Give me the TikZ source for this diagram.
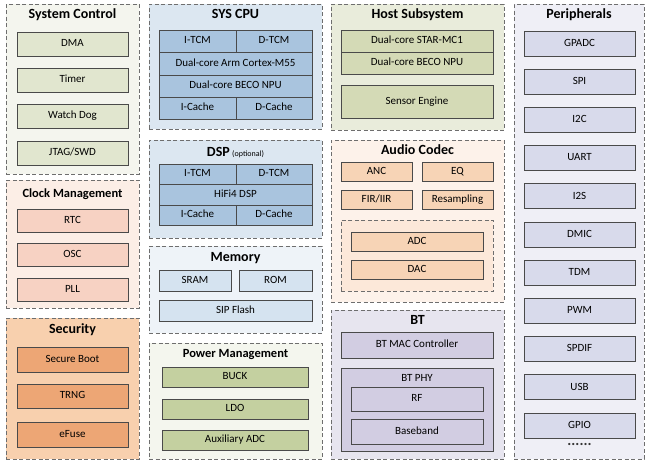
\documentclass[tikz,border=0pt]{standalone}
\usepackage{fontspec}
\setmainfont{Carlito}
\usetikzlibrary{positioning}
\definecolor{scO}{HTML}{F4F5EE}\definecolor{scI}{HTML}{E1E6CF}
\definecolor{ckO}{HTML}{FCEEE6}\definecolor{ckI}{HTML}{F7D2C3}
\definecolor{seO}{HTML}{F8D0AE}\definecolor{seI}{HTML}{EDA675}
\definecolor{cpO}{HTML}{DCE7F1}\definecolor{cpI}{HTML}{A9C4DE}
\definecolor{meO}{HTML}{EEF3F8}\definecolor{meI}{HTML}{D5E3F0}
\definecolor{pmO}{HTML}{F4F6EE}\definecolor{pmI}{HTML}{C4D0A0}
\definecolor{hoO}{HTML}{E9ECDB}\definecolor{hoI}{HTML}{D4DAB6}
\definecolor{auO}{HTML}{FDF2EA}\definecolor{auI}{HTML}{F7D4B6}\definecolor{auM}{HTML}{FCE8D9}
\definecolor{btO}{HTML}{E7E5EF}\definecolor{btI}{HTML}{D2CDE2}
\definecolor{peO}{HTML}{EFEFF6}\definecolor{peI}{HTML}{D8DAEB}
\definecolor{dashc}{HTML}{6E6E6E}\definecolor{linec}{HTML}{4A4A4A}
\newcommand\bx[7]{%
  \pgfmathsetmacro\bxw{#5-#3}\pgfmathsetmacro\bxh{#6-#4}%
  \node[#2, minimum width=\bxw pt, minimum height=\bxh pt] (#1) at ({(#3+#5)/2},{(#4+#6)/2}) {#7};}
\begin{document}
\begin{tikzpicture}[x=1pt,y=-1pt,
  outerbox/.style={draw=dashc, line width=0.9pt, dash pattern=on 4pt off 2.5pt, inner sep=0pt, outer sep=0pt},
  innerbox/.style={draw=linec, line width=0.8pt, inner sep=0pt, outer sep=0pt, font=\fontsize{11}{12}\selectfont, text height=7.5pt, text depth=2pt},
  midbox/.style={draw=dashc, line width=0.9pt, dash pattern=on 4pt off 2.5pt, inner sep=0pt, outer sep=0pt},
  title/.style={font=\fontsize{14}{16}\selectfont\bfseries, inner sep=0pt, text height=9.5pt, text depth=2.5pt},
  stitle/.style={font=\fontsize{12.5}{14}\selectfont\bfseries, inner sep=0pt, text height=8.5pt, text depth=2.5pt},
  label/.style={font=\fontsize{11}{12}\selectfont, inner sep=0pt, text height=7.5pt, text depth=2pt}]
\fill[white] (0,0) rectangle (650,464);
\useasboundingbox (0,0) rectangle (650,464);
% ---------- System Control
\bx{sc}{outerbox, fill=scO}{6}{4}{139}{174}{}
\node[title] (sct) at (72.5,15) {System Control};
\bx{dma}{innerbox, fill=scI}{17}{32}{128}{56}{DMA}
\bx{tim}{innerbox, fill=scI}{17}{68}{128}{92}{Timer}
\bx{wd}{innerbox, fill=scI}{17}{104}{128}{128}{Watch Dog}
\bx{jtag}{innerbox, fill=scI}{17}{141}{128}{165}{JTAG/SWD}
% ---------- Clock Management
\bx{ck}{outerbox, fill=ckO}{6}{180}{139}{308}{}
\node[stitle] (ckt) at (72.5,194) {Clock Management};
\bx{rtc}{innerbox, fill=ckI}{17}{209}{128}{232}{RTC}
\bx{osc}{innerbox, fill=ckI}{17}{243}{128}{266}{OSC}
\bx{pll}{innerbox, fill=ckI}{17}{278}{128}{301}{PLL}
% ---------- Security
\bx{se}{outerbox, fill=seO}{6}{318}{139}{459}{}
\node[title] (set) at (72.5,330) {Security};
\bx{sb}{innerbox, fill=seI}{17}{347}{128}{372}{Secure Boot}
\bx{trng}{innerbox, fill=seI}{17}{384}{128}{408}{TRNG}
\bx{efu}{innerbox, fill=seI}{17}{422}{128}{447}{eFuse}
% ---------- SYS CPU
\bx{cpu}{outerbox, fill=cpO}{149}{4}{322}{129}{}
\node[title] (cput) at (235.5,15) {SYS CPU};
\bx{itcm}{innerbox, fill=cpI}{159}{30}{236}{52}{I-TCM}
\bx{dtcm}{innerbox, fill=cpI}{236}{30}{312}{52}{D-TCM}
\bx{arm}{innerbox, fill=cpI}{159}{52}{312}{75}{Dual-core Arm Cortex-M55}
\bx{npu}{innerbox, fill=cpI}{159}{75}{312}{97}{Dual-core BECO NPU}
\bx{icache}{innerbox, fill=cpI}{159}{97}{236}{119}{I-Cache}
\bx{dcache}{innerbox, fill=cpI}{236}{97}{312}{119}{D-Cache}
% ---------- DSP
\bx{dsp}{outerbox, fill=cpO}{149}{140}{322}{238}{}
\node[title, anchor=base] (dspt) at (235.5,156.5) {DSP\,{\fontsize{8}{9}\selectfont\mdseries (optional)}};
\bx{ditcm}{innerbox, fill=cpI}{159}{164}{236}{184}{I-TCM}
\bx{ddtcm}{innerbox, fill=cpI}{236}{164}{312}{184}{D-TCM}
\bx{hifi}{innerbox, fill=cpI}{159}{184}{312}{205}{HiFi4 DSP}
\bx{dicache}{innerbox, fill=cpI}{159}{205}{236}{225}{I-Cache}
\bx{ddcache}{innerbox, fill=cpI}{236}{205}{312}{225}{D-Cache}
% ---------- Memory
\bx{mem}{outerbox, fill=meO}{149}{246}{322}{333}{}
\node[title] (memt) at (235.5,258) {Memory};
\bx{sram}{innerbox, fill=meI}{159}{270}{231}{291}{SRAM}
\bx{rom}{innerbox, fill=meI}{239}{270}{312}{291}{ROM}
\bx{sip}{innerbox, fill=meI}{159}{300}{312}{321}{SIP Flash}
% ---------- Power Management
\bx{pm}{outerbox, fill=pmO}{149}{343}{322}{459}{}
\node[stitle] (pmt) at (235.5,354) {Power Management};
\bx{buck}{innerbox, fill=pmI}{162}{367}{308}{387}{BUCK}
\bx{ldo}{innerbox, fill=pmI}{162}{399}{308}{419}{LDO}
\bx{aux}{innerbox, fill=pmI}{162}{430}{308}{450}{Auxiliary ADC}
% ---------- Host Subsystem
\bx{host}{outerbox, fill=hoO}{331}{4}{504}{130}{}
\node[title] (hostt) at (417.5,15) {Host Subsystem};
\bx{star}{innerbox, fill=hoI}{341}{30}{493}{52}{Dual-core STAR-MC1}
\bx{hnpu}{innerbox, fill=hoI}{341}{52}{493}{74}{Dual-core BECO NPU}
\bx{sens}{innerbox, fill=hoI}{341}{85}{493}{118}{Sensor Engine}
% ---------- Audio Codec
\bx{au}{outerbox, fill=auO}{331}{140}{504}{302}{}
\node[title] (aut) at (417.5,151) {Audio Codec};
\bx{anc}{innerbox, fill=auI}{341}{162}{412}{181}{ANC}
\bx{eq}{innerbox, fill=auI}{422}{162}{493}{181}{EQ}
\bx{fir}{innerbox, fill=auI}{341}{190}{412}{209}{FIR/IIR}
\bx{res}{innerbox, fill=auI}{422}{190}{493}{209}{Resampling}
\bx{aumid}{midbox, fill=auM}{341}{220}{493}{291}{}
\bx{adc}{innerbox, fill=auI}{351}{232}{483}{251}{ADC}
\bx{dac}{innerbox, fill=auI}{351}{260}{483}{279}{DAC}
% ---------- BT
\bx{bt}{outerbox, fill=btO}{331}{310}{504}{459}{}
\node[title] (btt) at (417.5,321) {BT};
\bx{mac}{innerbox, fill=btI}{341}{332}{493}{358}{BT MAC Controller}
\bx{phy}{innerbox, fill=btI}{341}{368}{493}{451}{}
\node[label] (phyt) at (417,379) {BT PHY};
\bx{rf}{innerbox, fill=btI}{351}{387}{483}{411}{RF}
\bx{bb}{innerbox, fill=btI}{351}{419}{483}{444}{Baseband}
% ---------- Peripherals
\bx{pe}{outerbox, fill=peO}{514}{4}{644}{459}{}
\node[title] (pet) at (579,15) {Peripherals};
\foreach \t [count=\i from 0] in {GPADC,SPI,I2C,UART,I2S,DMIC,TDM,PWM,SPDIF,USB,GPIO}{
  \pgfmathsetmacro\ya{31+38.2*\i}\pgfmathsetmacro\yb{\ya+25}
  \bx{p\i}{innerbox, fill=peI}{524}{\ya}{635}{\yb}{\t}
}
\node[font=\fontsize{15}{16}\selectfont\bfseries, inner sep=0pt, text=linec!70!black] (dots) at (579.5,444) {......};
\end{tikzpicture}
\end{document}
